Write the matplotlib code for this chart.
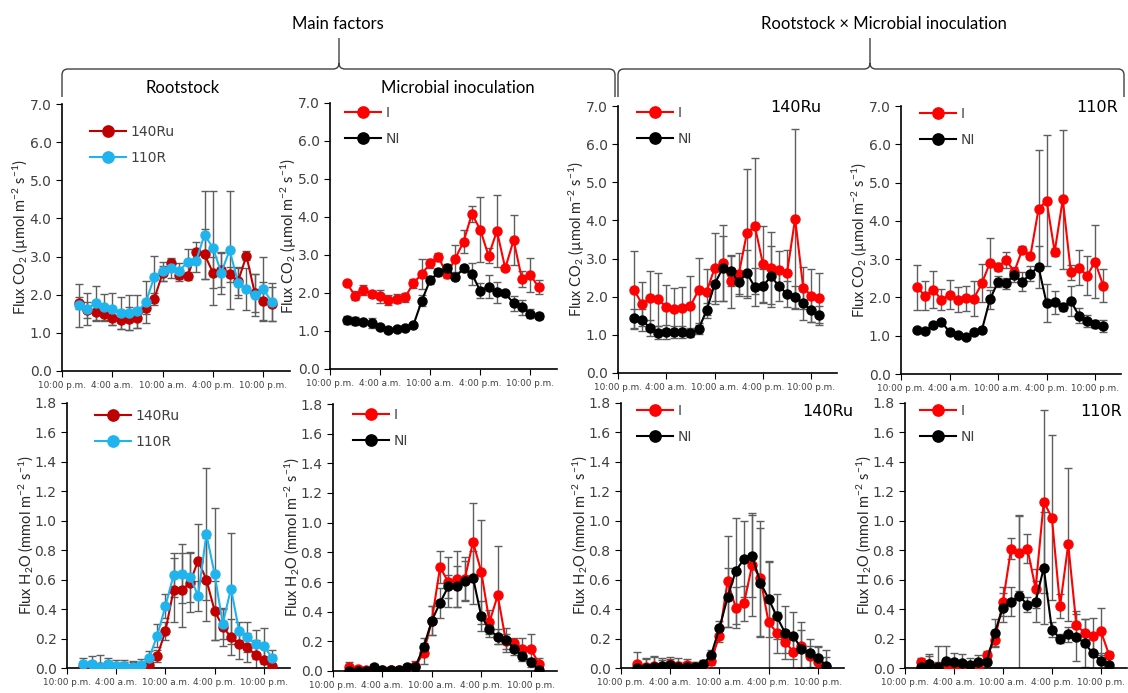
import numpy as np
import matplotlib
matplotlib.use('Agg')
import matplotlib.pyplot as plt
from matplotlib.path import Path
from matplotlib.patches import PathPatch

plt.rcParams['font.family'] = ['DejaVu Sans']
plt.rcParams['mathtext.fontset'] = 'custom'
plt.rcParams['mathtext.rm'] = 'Lato'
plt.rcParams['mathtext.default'] = 'regular'

# hours after 10:00 p.m. (one reading per hour)
hours = np.arange(2, 26)
tick_pos = [0, 6, 12, 18, 24]
tick_labels = ['10:00 p.m.', '4:00 a.m.', '10:00 a.m.', '4:00 p.m.', '10:00 p.m.']

# ---- CO2 flux, main factor: rootstock
co2_140ru = [1.78, 1.60, 1.55, 1.49, 1.40, 1.35, 1.37, 1.39, 1.64, 1.89, 2.56, 2.82,
             2.52, 2.49, 3.13, 3.06, 2.58, 2.65, 2.53, 2.35, 3.02, 2.04, 1.84, 1.76]
co2_140ru_err = [0.15, 0.20, 0.22, 0.15, 0.20, 0.25, 0.30, 0.25, 0.15, 0.15, 0.20, 0.15,
                 0.15, 0.10, 0.25, 0.65, 0.40, 0.45, 0.20, 0.35, 0.12, 0.50, 0.50, 0.45]
co2_110r = [1.72, 1.63, 1.77, 1.67, 1.62, 1.51, 1.53, 1.56, 1.80, 2.46, 2.62, 2.69,
            2.62, 2.87, 2.89, 3.57, 3.23, 2.58, 3.17, 2.32, 2.15, 1.99, 2.15, 1.82]
co2_110r_err = [0.57, 0.42, 0.45, 0.35, 0.42, 0.42, 0.45, 0.44, 0.55, 0.55, 0.25, 0.25,
                0.20, 0.33, 0.30, 1.15, 1.50, 0.55, 1.55, 0.40, 0.55, 0.55, 0.85, 0.50]

# ---- CO2 flux, main factor: microbial inoculation
co2_i = [2.26, 1.93, 2.08, 1.97, 1.91, 1.82, 1.85, 1.89, 2.26, 2.50, 2.78, 2.94,
         2.49, 2.90, 3.35, 4.08, 3.67, 2.98, 3.63, 2.65, 3.39, 2.37, 2.48, 2.15]
co2_i_err = [0.05, 0.12, 0.12, 0.08, 0.17, 0.13, 0.12, 0.12, 0.12, 0.40, 0.12, 0.10,
             0.10, 0.35, 0.30, 0.22, 0.85, 0.20, 0.95, 0.05, 0.65, 0.20, 0.45, 0.18]
co2_ni = [1.29, 1.27, 1.24, 1.20, 1.11, 1.03, 1.05, 1.07, 1.16, 1.80, 2.34, 2.54,
          2.65, 2.41, 2.65, 2.50, 2.06, 2.17, 2.02, 1.99, 1.73, 1.62, 1.46, 1.40]
co2_ni_err = [0.10, 0.10, 0.06, 0.13, 0.05, 0.05, 0.05, 0.05, 0.05, 0.15, 0.10, 0.10,
              0.10, 0.05, 0.08, 0.28, 0.20, 0.30, 0.28, 0.05, 0.20, 0.20, 0.12, 0.08]

# ---- CO2 flux, 140Ru x inoculation
co2_140ru_i = [2.18, 1.80, 1.97, 1.93, 1.73, 1.67, 1.70, 1.76, 2.17, 2.13, 2.75, 2.88,
               2.40, 2.59, 3.66, 3.85, 2.86, 2.75, 2.70, 2.63, 4.05, 2.24, 2.03, 1.96]
co2_140ru_i_err = [1.02, 0.58, 0.70, 0.70, 0.57, 0.55, 0.55, 0.77, 0.85, 0.60, 0.93, 1.00,
                   0.70, 0.56, 1.70, 1.78, 1.00, 0.95, 0.50, 0.60, 2.35, 0.55, 0.70, 0.66]
co2_140ru_ni = [1.44, 1.39, 1.18, 1.06, 1.07, 1.07, 1.07, 1.06, 1.15, 1.64, 2.33, 2.75,
                2.68, 2.38, 2.62, 2.25, 2.28, 2.53, 2.28, 2.07, 1.98, 1.83, 1.64, 1.51]
co2_140ru_ni_err = [0.25, 0.30, 0.22, 0.18, 0.18, 0.15, 0.15, 0.12, 0.12, 0.20, 0.45, 0.85,
                    0.40, 0.30, 0.60, 0.50, 0.45, 0.80, 0.40, 0.35, 0.30, 0.45, 0.30, 0.25]

# ---- CO2 flux, 110R x inoculation
co2_110r_i = [2.26, 2.04, 2.20, 1.94, 2.07, 1.94, 1.98, 1.97, 2.37, 2.91, 2.79, 2.98,
              2.67, 3.25, 3.09, 4.30, 4.53, 3.19, 4.56, 2.66, 2.78, 2.57, 2.93, 2.31]
co2_110r_i_err = [0.60, 0.38, 0.48, 0.28, 0.38, 0.33, 0.33, 0.45, 0.50, 0.65, 0.10, 0.20,
                  0.10, 0.10, 0.05, 1.55, 1.70, 0.10, 1.82, 0.20, 0.45, 0.50, 0.95, 0.42]
co2_110r_ni = [1.16, 1.13, 1.27, 1.36, 1.10, 1.03, 0.96, 1.10, 1.15, 1.95, 2.41, 2.37,
               2.59, 2.41, 2.62, 2.80, 1.85, 1.88, 1.75, 1.91, 1.52, 1.39, 1.31, 1.26]
co2_110r_ni_err = [0.05, 0.05, 0.05, 0.05, 0.05, 0.05, 0.05, 0.05, 0.05, 0.25, 0.15, 0.15,
                   0.20, 0.25, 0.20, 0.55, 0.50, 0.30, 0.10, 0.40, 0.20, 0.15, 0.10, 0.15]

# ---- H2O flux, main factor: rootstock
h2o_140ru = [0.005, 0.02, 0.005, 0.02, 0.005, 0.01, 0.01, 0.005, 0.02, 0.08, 0.25, 0.53,
             0.53, 0.58, 0.73, 0.60, 0.39, 0.28, 0.21, 0.16, 0.14, 0.09, 0.055, 0.015]
h2o_140ru_err = [0.03, 0.03, 0.03, 0.03, 0.03, 0.03, 0.03, 0.03, 0.03, 0.04, 0.06, 0.22,
                 0.25, 0.20, 0.25, 0.28, 0.20, 0.13, 0.12, 0.10, 0.10, 0.10, 0.10, 0.07]
h2o_110r = [0.025, 0.03, 0.005, 0.03, 0.015, 0.015, 0.01, 0.02, 0.065, 0.22, 0.42, 0.63,
            0.64, 0.62, 0.49, 0.91, 0.64, 0.30, 0.54, 0.25, 0.21, 0.16, 0.15, 0.07]
h2o_110r_err = [0.04, 0.05, 0.08, 0.04, 0.04, 0.04, 0.04, 0.04, 0.05, 0.08, 0.08, 0.15,
                0.20, 0.17, 0.10, 0.45, 0.45, 0.10, 0.38, 0.06, 0.10, 0.10, 0.12, 0.05]

# ---- H2O flux, main factor: microbial inoculation
h2o_i = [0.03, 0.015, 0.01, 0.0, 0.01, 0.01, 0.005, 0.02, 0.035, 0.12, 0.34, 0.70,
         0.60, 0.62, 0.62, 0.87, 0.67, 0.33, 0.51, 0.20, 0.19, 0.15, 0.15, 0.05]
h2o_i_err = [0.03, 0.02, 0.02, 0.02, 0.02, 0.02, 0.02, 0.02, 0.03, 0.07, 0.10, 0.11,
             0.17, 0.19, 0.15, 0.26, 0.35, 0.08, 0.33, 0.05, 0.03, 0.07, 0.10, 0.04]
h2o_ni = [0.0, 0.0, 0.0, 0.025, 0.005, 0.01, 0.005, 0.025, 0.03, 0.16, 0.34, 0.46,
          0.57, 0.57, 0.61, 0.63, 0.37, 0.28, 0.23, 0.21, 0.15, 0.10, 0.06, 0.01]
h2o_ni_err = [0.02, 0.02, 0.02, 0.02, 0.02, 0.02, 0.02, 0.02, 0.02, 0.06, 0.10, 0.10,
              0.08, 0.14, 0.13, 0.18, 0.10, 0.05, 0.05, 0.08, 0.04, 0.03, 0.03, 0.02]

# ---- H2O flux, 140Ru x inoculation
h2o_140ru_i = [0.025, 0.01, 0.015, 0.005, 0.025, 0.015, 0.02, 0.01, 0.005, 0.05, 0.22, 0.59,
               0.41, 0.44, 0.70, 0.61, 0.31, 0.24, 0.18, 0.11, 0.15, 0.08, 0.04, 0.005]
h2o_140ru_i_err = [0.085, 0.06, 0.06, 0.05, 0.05, 0.05, 0.04, 0.03, 0.03, 0.03, 0.04, 0.31,
                   0.14, 0.12, 0.35, 0.39, 0.41, 0.14, 0.08, 0.12, 0.16, 0.07, 0.10, 0.12]
h2o_140ru_ni = [0.0, 0.0, 0.01, 0.015, 0.02, 0.01, 0.01, 0.01, 0.025, 0.09, 0.27, 0.48,
                0.66, 0.74, 0.76, 0.58, 0.47, 0.35, 0.24, 0.22, 0.13, 0.10, 0.07, 0.015]
h2o_140ru_ni_err = [0.03, 0.06, 0.07, 0.05, 0.04, 0.03, 0.03, 0.03, 0.03, 0.03, 0.05, 0.20,
                    0.36, 0.26, 0.28, 0.37, 0.26, 0.15, 0.18, 0.16, 0.13, 0.10, 0.08, 0.06]

# ---- H2O flux, 110R x inoculation
h2o_110r_i = [0.04, 0.03, 0.01, 0.005, 0.005, 0.0, 0.0, 0.005, 0.085, 0.19, 0.45, 0.81,
              0.78, 0.81, 0.54, 1.13, 1.02, 0.42, 0.84, 0.29, 0.24, 0.22, 0.25, 0.09]
h2o_110r_i_err = [0.03, 0.05, 0.03, 0.03, 0.03, 0.03, 0.03, 0.03, 0.03, 0.05, 0.10, 0.07,
                  0.26, 0.10, 0.13, 0.62, 0.56, 0.08, 0.52, 0.10, 0.09, 0.12, 0.16, 0.02]
h2o_110r_ni = [0.01, 0.025, 0.01, 0.05, 0.04, 0.035, 0.02, 0.04, 0.04, 0.24, 0.41, 0.45,
               0.49, 0.43, 0.45, 0.68, 0.26, 0.20, 0.23, 0.21, 0.17, 0.10, 0.05, 0.02]
h2o_110r_ni_err = [0.03, 0.07, 0.14, 0.10, 0.06, 0.06, 0.05, 0.05, 0.05, 0.09, 0.10, 0.10,
                   0.54, 0.05, 0.14, 0.38, 0.05, 0.03, 0.05, 0.16, 0.16, 0.10, 0.05, 0.06]

C_140RU = '#C00000'
C_110R = '#1FB4EE'
C_I = '#FF0000'
C_NI = '#000000'
ERR_C = '#5E5E5E'
TXT_C = '#404040'

W, H = 1128, 693
fig = plt.figure(figsize=(W / 100, H / 100), dpi=100)

# panel boxes in pixels: left, right, top, bottom
boxes = [
    (62, 290, 104, 371), (330, 557, 103, 369), (618, 837, 106, 373), (901, 1121, 106, 374),
    (67, 290, 403, 668), (333, 557, 404, 671), (621, 844, 403, 668), (905, 1127, 403, 668),
]
# legend: x of handle start, y of first row (pixels)
leg_pos = [(90, 134), (345, 115), (637, 115), (920, 116),
           (95, 418), (353, 417), (637, 413), (920, 413)]
# panel tag: right edge x, centre y (pixels)
tag_pos = [None, None, (821, 108), (1118, 107), None, None, (853, 412), (1122, 412)]

co2_lab = 'Flux CO$_2$ (µmol m$^{-2}$ s$^{-1}$)'
h2o_lab = 'Flux H$_2$O (mmol m$^{-2}$ s$^{-1}$)'

panels = [
    ([('140Ru', co2_140ru, co2_140ru_err, C_140RU), ('110R', co2_110r, co2_110r_err, C_110R)], 'co2', None),
    ([('I', co2_i, co2_i_err, C_I), ('NI', co2_ni, co2_ni_err, C_NI)], 'co2', None),
    ([('I', co2_140ru_i, co2_140ru_i_err, C_I), ('NI', co2_140ru_ni, co2_140ru_ni_err, C_NI)], 'co2', '140Ru'),
    ([('I', co2_110r_i, co2_110r_i_err, C_I), ('NI', co2_110r_ni, co2_110r_ni_err, C_NI)], 'co2', '110R'),
    ([('140Ru', h2o_140ru, h2o_140ru_err, C_140RU), ('110R', h2o_110r, h2o_110r_err, C_110R)], 'h2o', None),
    ([('I', h2o_i, h2o_i_err, C_I), ('NI', h2o_ni, h2o_ni_err, C_NI)], 'h2o', None),
    ([('I', h2o_140ru_i, h2o_140ru_i_err, C_I), ('NI', h2o_140ru_ni, h2o_140ru_ni_err, C_NI)], 'h2o', '140Ru'),
    ([('I', h2o_110r_i, h2o_110r_i_err, C_I), ('NI', h2o_110r_ni, h2o_110r_ni_err, C_NI)], 'h2o', '110R'),
]

for (l, r, t, b), (series, kind, tag), (lx, ly), tp in zip(boxes, panels, leg_pos, tag_pos):
    ax = fig.add_axes([l / W, 1 - b / H, (r - l) / W, (b - t) / H])
    for name, vals, err, col in series:
        ax.errorbar(hours, vals, yerr=err, fmt='none', ecolor=ERR_C, elinewidth=1,
                    capsize=3, capthick=1, zorder=2)
        ax.plot(hours, vals, '-o', color=col, lw=1.5, ms=6.5, label=name, zorder=3)
    ax.set_xlim(0, 27.2)
    if kind == 'co2':
        ax.set_ylim(0, 7)
        ax.set_yticks(np.arange(0, 7.01, 1.0))
        ax.set_yticklabels([f'{v:.1f}' for v in np.arange(0, 7.01, 1.0)])
        ax.set_ylabel(co2_lab, fontsize=10.5, family='Lato', color='#262626')
    else:
        ax.set_ylim(0, 1.8)
        ax.set_yticks(np.arange(0, 1.81, 0.2))
        ax.set_yticklabels([f'{v:.1f}' for v in np.arange(0, 1.81, 0.2)])
        ax.set_ylabel(h2o_lab, fontsize=10.5, family='Lato', color='#262626')
    ax.yaxis.set_label_coords(-31 / (r - l), 0.5)
    ax.set_xticks(tick_pos)
    ax.set_xticklabels(tick_labels, fontsize=6.4, color=TXT_C)
    ax.tick_params(axis='y', labelsize=10, colors=TXT_C, length=4, direction='out')
    ax.tick_params(axis='x', length=4, direction='out', pad=3, colors=TXT_C)
    ax.tick_params(axis='both', color='#000000')
    for s in ['top', 'right']:
        ax.spines[s].set_visible(False)
    for s in ['left', 'bottom']:
        ax.spines[s].set_color('#000000')
        ax.spines[s].set_linewidth(1.2)
    ax.set_facecolor('none')
    anchor = ((lx - l) / (r - l), (b - (ly - 9)) / (b - t))
    leg = ax.legend(loc='upper left', bbox_to_anchor=anchor, frameon=False,
                    fontsize=10, handlelength=2.6, labelspacing=0.85, handletextpad=0.3,
                    borderaxespad=0, borderpad=0, markerscale=1.25)
    for txt in leg.get_texts():
        txt.set_color(TXT_C)
    if tag:
        tx, ty = tp
        fig.text(tx / W, 1 - ty / H, tag, ha='right', va='center',
                 fontsize=11.5, color='#000000', zorder=5)


def brace(x0, xm, x1, y_line, y_tip, y_end, r=6):
    pts = [(x0, y_end), (x0, y_line + r), (x0, y_line), (x0 + r, y_line),
           (xm - r, y_line), (xm, y_line), (xm, y_line - r), (xm, y_tip),
           (xm, y_line - r), (xm, y_line), (xm + r, y_line),
           (x1 - r, y_line), (x1, y_line), (x1, y_line + r), (x1, y_end)]
    codes = [Path.MOVETO, Path.LINETO, Path.CURVE3, Path.CURVE3,
             Path.LINETO, Path.CURVE3, Path.CURVE3, Path.LINETO,
             Path.MOVETO, Path.CURVE3, Path.CURVE3,
             Path.LINETO, Path.CURVE3, Path.CURVE3, Path.LINETO]
    pts = [(x / W, 1 - y / H) for x, y in pts]
    patch = PathPatch(Path(pts, codes), transform=fig.transFigure, fill=False,
                      edgecolor='#404040', lw=1)
    fig.patches.append(patch)


brace(62, 339, 615, 69, 38, 97)
brace(618, 870, 1124, 69, 38, 97)

fig.text(338 / W, 1 - 24 / H, 'Main factors', ha='center', va='center',
         fontsize=12, family='Lato', color='#000000')
fig.text(884 / W, 1 - 24 / H, 'Rootstock × Microbial inoculation', ha='center', va='center',
         fontsize=12, family='Lato', color='#000000')
fig.text(183 / W, 1 - 88 / H, 'Rootstock', ha='center', va='center',
         fontsize=12, family='Lato', color='#000000')
fig.text(458 / W, 1 - 88 / H, 'Microbial inoculation', ha='center', va='center',
         fontsize=12, family='Lato', color='#000000')

fig.savefig('out.png', dpi=100)
